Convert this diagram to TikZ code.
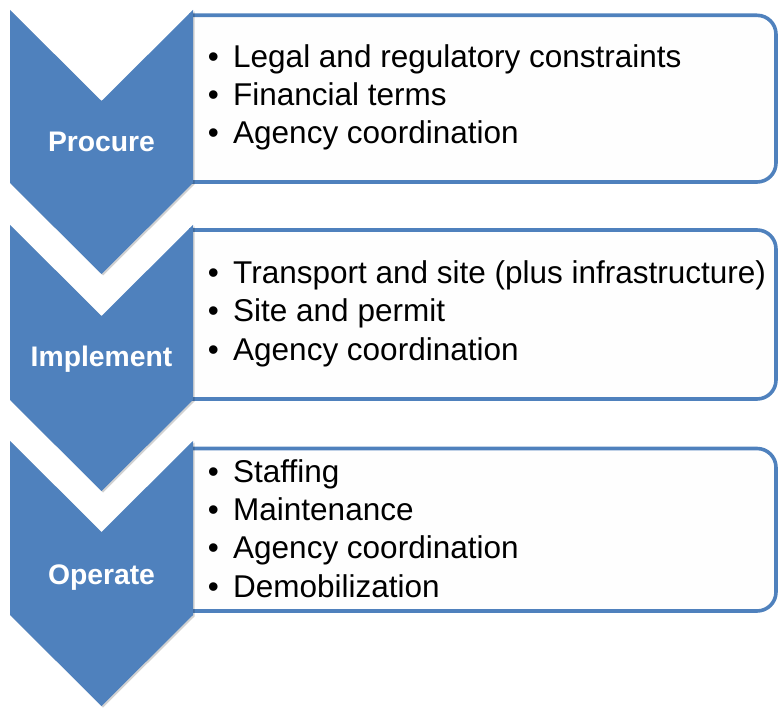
\documentclass[tikz,border=0pt]{standalone}
\usepackage{fontspec}
\setmainfont{Liberation Sans}
\definecolor{accent}{HTML}{4F81BD}
\definecolor{boxfill}{HTML}{FEFEFE}
\tikzset{
  x=1pt, y=1pt,
  chev/.style={fill=accent, draw=none},
  chevshadow/.style={fill=black, opacity=0.18, draw=none},
  infobox/.style={fill=boxfill, draw=accent, line width=3.6pt},
  phase/.style={text=white, font=\fontsize{28.3}{32}\selectfont\bfseries, inner sep=0pt, anchor=base},
  bulletdot/.style={font=\fontsize{31.5}{38}\selectfont, inner sep=0pt, anchor=base},
  item/.style={font=\fontsize{31.5}{38}\selectfont, inner sep=0pt, anchor=base west},
}
\begin{document}
\begin{tikzpicture}
\useasboundingbox (0,0) rectangle (778,707);
% info boxes (left side hidden under chevrons)
\newcommand{\infobox}[2]{%
  \draw[infobox] (191,#2) -- (191,#1) -- (757,#1) arc[start angle=90, end angle=0, radius=19]
    -- (776,#2+19) arc[start angle=0, end angle=-90, radius=19] -- cycle;}
\infobox{691.7}{525}
\infobox{477}{308}
\infobox{258.5}{96}
% chevrons: top T, notch N, side bottom B, tip P
\newcommand{\chevron}[4]{%
  \fill[chevshadow] (11.5,#1-1.5) -- (103,#2-1.5) -- (194.5,#1-1.5) -- (194.5,#3-1.5) -- (103,#4-1.5) -- (11.5,#3-1.5) -- cycle;
  \fill[chev] (10,#1) -- (101.5,#2) -- (193,#1) -- (193,#3) -- (101.5,#4) -- (10,#3) -- cycle;}
\chevron{697}{606}{524}{433}
\chevron{482}{391}{307}{216}
\chevron{266}{175}{92}{1}
% phase labels
\node[phase] (procure) at (101.5,555) {Procure};
\node[phase] (implement) at (101.5,340) {Implement};
\node[phase] (operate) at (101.5,123) {Operate};
% box 1
\node[bulletdot] (b11) at (213.5,639) {•};
\node[item] (t11) at (233,639) {Legal and regulatory constraints};
\node[bulletdot] (b12) at (213.5,601) {•};
\node[item] (t12) at (233,601) {Financial terms};
\node[bulletdot] (b13) at (213.5,563) {•};
\node[item] (t13) at (233,563) {Agency coordination};
% box 2
\node[bulletdot] (b21) at (213.5,423) {•};
\node[item] (t21) at (233,423) {Transport and site (plus infrastructure)};
\node[bulletdot] (b22) at (213.5,385) {•};
\node[item] (t22) at (233,385) {Site and permit};
\node[bulletdot] (b23) at (213.5,346) {•};
\node[item] (t23) at (233,346) {Agency coordination};
% box 3
\node[bulletdot] (b31) at (213.5,225) {•};
\node[item] (t31) at (233,225) {Staffing};
\node[bulletdot] (b32) at (213.5,187) {•};
\node[item] (t32) at (233,187) {Maintenance};
\node[bulletdot] (b33) at (213.5,149) {•};
\node[item] (t33) at (233,149) {Agency coordination};
\node[bulletdot] (b34) at (213.5,110) {•};
\node[item] (t34) at (233,110) {Demobilization};
\end{tikzpicture}
\end{document}
